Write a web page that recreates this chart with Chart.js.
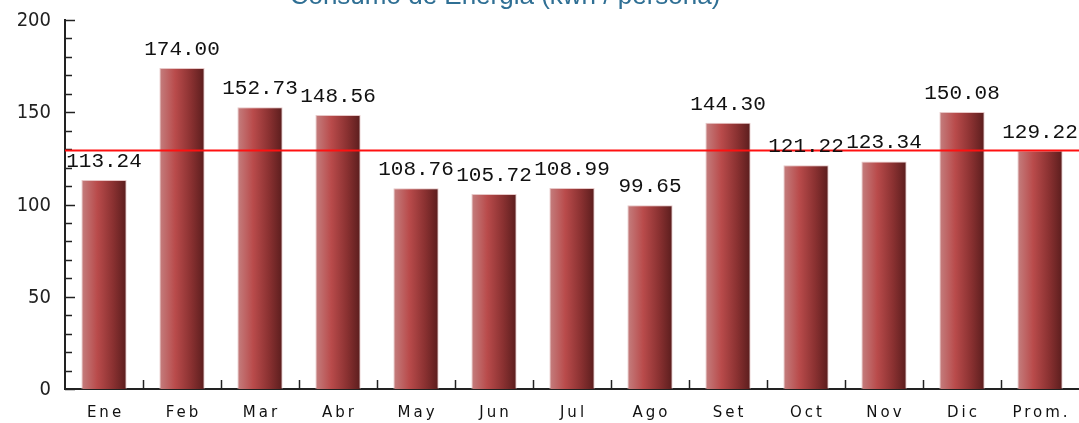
<!DOCTYPE html>
<html lang="es">
<head>
    <meta charset="UTF-8">
    <title>Consumo de Energia</title>
    <script src="https://cdn.jsdelivr.net/npm/chart.js"></script>
    <style>
        html, body { margin: 0; padding: 0; background: #fff; }
        canvas { display: block; }
    </style>
</head>
<body>
    <canvas id="energyChart" width="1079" height="423"></canvas>

    <script>
        // datos
        const months = ['Ene', 'Feb', 'Mar', 'Abr', 'May', 'Jun', 'Jul', 'Ago', 'Set', 'Oct', 'Nov', 'Dic', 'Prom.'];
        const consumo = [113.24, 174.00, 152.73, 148.56, 108.76, 105.72, 108.99, 99.65, 144.30, 121.22, 123.34, 150.08, 129.22];
        const promedio = 129.22;
        const yTickLabels = [0, 50, 100, 150, 200];
        const titleText = 'Consumo de Energia (kwh / persona)';

        const BAR_PCT = 0.58;

        // title, cut at the top like the original
        const titlePlugin = {
            id: 'cutTitle',
            afterDraw(chart) {
                const ctx = chart.ctx;
                ctx.save();
                ctx.font = '26px "Liberation Sans", Arial, sans-serif';
                ctx.fillStyle = '#2f6f94';
                ctx.textAlign = 'center';
                ctx.textBaseline = 'alphabetic';
                ctx.fillText(titleText, 505, 4);
                ctx.restore();
            }
        };

        // horizontal gradient, one per bar
        function barGradient(context) {
            const chart = context.chart;
            const area = chart.chartArea;
            if (!area || context.dataIndex === undefined) return '#b94b4b';
            const xs = chart.scales.x;
            const cx = xs.getPixelForValue(context.dataIndex);
            const w = (area.right - area.left) / months.length * BAR_PCT;
            const g = chart.ctx.createLinearGradient(cx - w / 2, 0, cx + w / 2, 0);
            g.addColorStop(0, '#c47f7f');
            g.addColorStop(0.35, '#b94b4b');
            g.addColorStop(0.7, '#8a3131');
            g.addColorStop(1, '#5a1d1d');
            return g;
        }

        // inward ticks, average line and value labels
        const decorations = {
            id: 'decorations',
            afterDatasetsDraw(chart) {
                const ctx = chart.ctx;
                const area = chart.chartArea;
                const y = chart.scales.y;
                const x = chart.scales.x;

                ctx.save();
                ctx.strokeStyle = '#222';
                ctx.lineWidth = 1.5;
                // y ticks every 10
                for (let v = 0; v <= 200; v += 10) {
                    const py = Math.round(y.getPixelForValue(v)) + 0.5;
                    const len = v % 50 === 0 ? 10 : 7;
                    ctx.beginPath();
                    ctx.moveTo(area.left, py);
                    ctx.lineTo(area.left + len, py);
                    ctx.stroke();
                }
                // x ticks between categories
                for (let i = 1; i < months.length; i++) {
                    const px = Math.round((x.getPixelForValue(i - 1) + x.getPixelForValue(i)) / 2) + 0.5;
                    ctx.beginPath();
                    ctx.moveTo(px, area.bottom);
                    ctx.lineTo(px, area.bottom - 9);
                    ctx.stroke();
                }

                // average line
                const avgY = y.getPixelForValue(promedio);
                ctx.strokeStyle = '#ff1010';
                ctx.lineWidth = 2;
                ctx.beginPath();
                ctx.moveTo(area.left, avgY);
                ctx.lineTo(chart.width, avgY);
                ctx.stroke();

                // value labels
                ctx.font = '21px "Liberation Mono", "Courier New", monospace';
                ctx.fillStyle = '#111';
                ctx.textAlign = 'center';
                ctx.textBaseline = 'alphabetic';
                chart.getDatasetMeta(0).data.forEach((bar, i) => {
                    ctx.fillText(consumo[i].toFixed(2), bar.x, bar.y - 13);
                });

                // x labels with wide spacing
                ctx.font = '15px "DejaVu Sans", sans-serif';
                ctx.fillStyle = '#111';
                ctx.letterSpacing = '3px';
                ctx.textBaseline = 'middle';
                months.forEach((m, i) => {
                    ctx.fillText(m, x.getPixelForValue(i) + 1.5, area.bottom + 24);
                });

                // y labels
                ctx.letterSpacing = '0px';
                ctx.font = '20px "Liberation Sans Narrow", "DejaVu Sans Condensed", sans-serif';
                ctx.fillStyle = '#222';
                ctx.textAlign = 'right';
                yTickLabels.forEach(v => {
                    ctx.fillText(String(v), area.left - 14, y.getPixelForValue(v) + 1);
                });
                ctx.restore();
            }
        };

        new Chart(document.getElementById('energyChart'), {
            type: 'bar',
            data: {
                labels: months,
                datasets: [{
                    data: consumo,
                    backgroundColor: barGradient,
                    borderColor: 'rgba(225, 185, 185, 0.8)',
                    borderWidth: 1,
                    categoryPercentage: 1,
                    barPercentage: BAR_PCT
                }]
            },
            options: {
                responsive: false,
                animation: false,
                layout: { padding: { top: 20, right: 0, left: 0, bottom: 0 } },
                plugins: {
                    legend: { display: false },
                    tooltip: { enabled: false }
                },
                scales: {
                    x: {
                        grid: { display: false, drawTicks: false },
                        border: { color: '#222', width: 2 },
                        ticks: { display: false },
                        afterFit(scale) { scale.height = 34; }
                    },
                    y: {
                        min: 0,
                        max: 200,
                        grid: { display: false, drawTicks: false },
                        border: { color: '#222', width: 2 },
                        ticks: { display: false, stepSize: 50 },
                        afterFit(scale) { scale.width = 65; }
                    }
                }
            },
            plugins: [titlePlugin, decorations]
        });
    </script>
</body>
</html>
